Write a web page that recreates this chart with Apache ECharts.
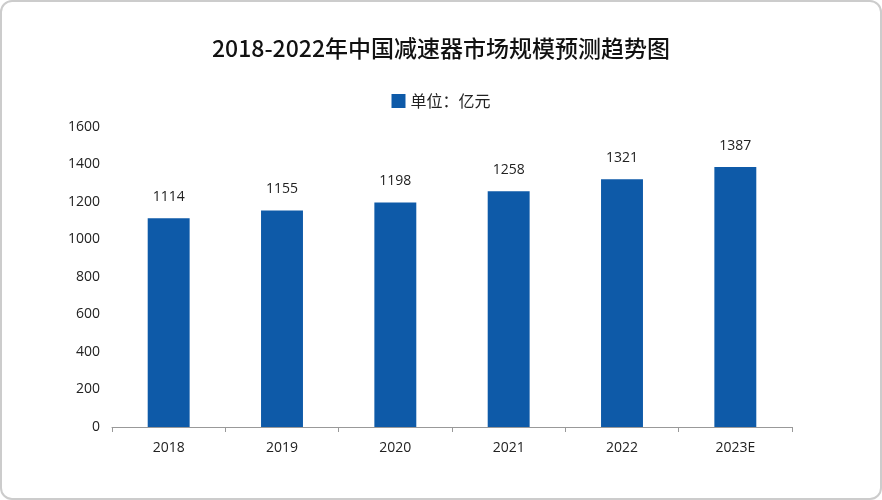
<!DOCTYPE html>
<html><head><meta charset="utf-8">
<script src="https://cdn.jsdelivr.net/npm/echarts@6/dist/echarts.min.js"></script>
<style>html,body{margin:0;background:#fff}#c{width:882px;height:500px;box-sizing:border-box;border:2px solid #ccc;border-radius:12px}</style>
</head><body><div id="c"></div>
<script>
const years = ['2018', '2019', '2020', '2021', '2022', '2023E'];
const values = [1114, 1155, 1198, 1258, 1321, 1387];

const chart = echarts.init(document.getElementById('c'));
const font = 'Open Sans';
chart.setOption({
  title: { text: '2018-2022年中国减速器市场规模预测趋势图', left: 'center', top: 30,
    textStyle: { color: '#111', fontSize: 23, fontWeight: 500, fontFamily: 'Noto Sans CJK SC' } },
  legend: { top: 86, itemWidth: 14, itemHeight: 14, icon: 'rect',
    textStyle: { fontSize: 16, color: '#222', fontFamily: 'Noto Sans CJK SC' } },
  grid: { left: 110, right: 88, top: 125, bottom: 71 },
  xAxis: { type: 'category', data: years,
    axisLine: { lineStyle: { color: '#999' } },
    axisTick: { show: true, lineStyle: { color: '#999' } },
    axisLabel: { color: '#222', fontSize: 14, margin: 14, fontFamily: font } },
  yAxis: { type: 'value', min: 0, max: 1600, interval: 200,
    axisLine: { show: false }, axisTick: { show: false }, splitLine: { show: false },
    axisLabel: { color: '#222', fontSize: 14, margin: 12, fontFamily: font, formatter: v => String(v) } },
  series: [{ name: '单位：亿元', type: 'bar', data: values, barWidth: '37%',
    itemStyle: { color: '#0e5aa8' },
    label: { show: true, position: 'top', distance: 14, color: '#222', fontSize: 14, fontFamily: font } }]
});
</script></body></html>
